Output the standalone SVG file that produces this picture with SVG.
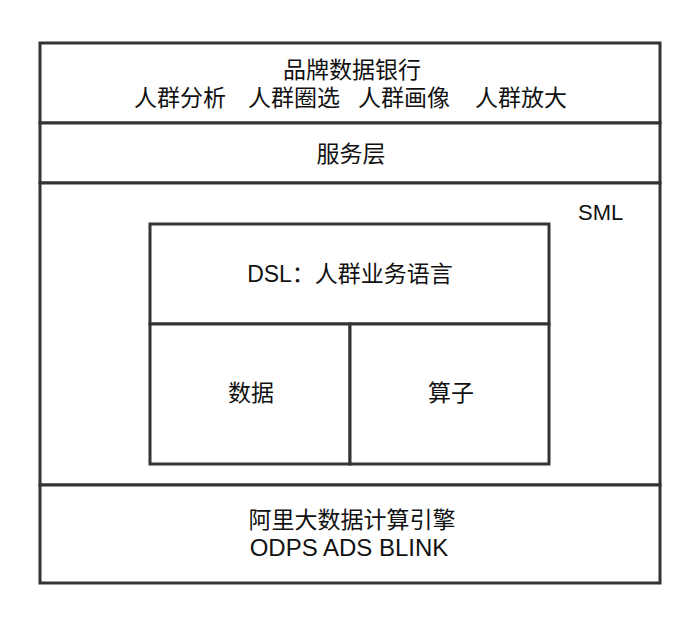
<svg xmlns="http://www.w3.org/2000/svg" width="690" height="618" viewBox="0 0 690 618">
<style>
.box{fill:#fff;stroke:#333;stroke-width:3}
text{font-family:"Liberation Sans","Noto Sans CJK SC",sans-serif;font-size:23px;fill:#111}
.m{text-anchor:middle}
</style>
<rect width="690" height="618" fill="#fff"/>
<g id="app-layer">
<rect class="box" x="40" y="43" width="620" height="80"/>
<text class="m" x="352" y="78">品牌数据银行</text>
<text x="134" y="106">人群分析</text>
<text x="248" y="106">人群圈选</text>
<text x="358" y="106">人群画像</text>
<text x="475" y="106">人群放大</text>
</g>
<g id="service-layer">
<rect class="box" x="40" y="123" width="620" height="60"/>
<text class="m" x="351" y="162">服务层</text>
</g>
<g id="sml">
<rect class="box" x="40" y="183" width="620" height="302"/>
<text x="578" y="220" style="font-size:22px">SML</text>
</g>
<g id="dsl">
<rect class="box" x="150" y="224" width="399" height="100"/>
<text class="m" x="350" y="282">DSL：人群业务语言</text>
</g>
<g id="data">
<rect class="box" x="150" y="324" width="200" height="140"/>
<text class="m" x="251" y="401">数据</text>
</g>
<g id="operator">
<rect class="box" x="350" y="324" width="199" height="140"/>
<text class="m" x="451" y="401">算子</text>
</g>
<g id="engine-layer">
<rect class="box" x="40" y="485" width="620" height="98"/>
<text class="m" x="352" y="528">阿里大数据计算引擎</text>
<text class="m" x="349" y="556" style="font-size:24px">ODPS ADS BLINK</text>
</g>
<g id="connectors"></g>
</svg>
